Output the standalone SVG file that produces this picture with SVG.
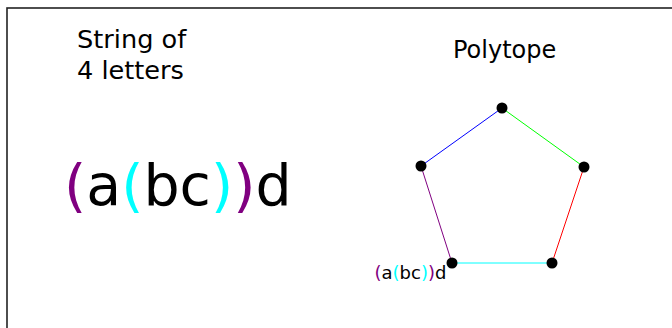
<svg xmlns="http://www.w3.org/2000/svg" width="672" height="328" viewBox="0 0 672 328">
<style>
text{font-family:"DejaVu Sans",sans-serif;fill:#000}
.edge{stroke-width:1;fill:none}
.v{fill:#000}
.p{fill:#800080}
.c{fill:#00ffff}
</style>
<rect x="0" y="0" width="672" height="328" fill="#fff"/>
<rect x="7" y="8" width="700" height="360" fill="none" stroke="#222" stroke-width="1.6"/>
<g id="title-string">
<text x="77" y="48" font-size="25.6">String of</text>
<text x="77" y="79" font-size="25.6">4 letters</text>
</g>
<g id="title-polytope">
<text x="453" y="58" font-size="24">Polytope</text>
</g>
<g id="big-string">
<text x="64" y="205" font-size="57"><tspan class="p">(</tspan>a<tspan class="c">(</tspan>bc<tspan class="c">)</tspan><tspan class="p">)</tspan>d</text>
</g>
<g id="connectors">
<line class="edge" x1="421" y1="166" x2="502" y2="108" stroke="#0000ff"/>
<line class="edge" x1="502" y1="108" x2="584" y2="167" stroke="#00ff00"/>
<line class="edge" x1="584" y1="167" x2="552" y2="263" stroke="#ff0000"/>
<line class="edge" x1="452" y1="263" x2="552" y2="263" stroke="#00ffff"/>
<line class="edge" x1="421" y1="166" x2="452" y2="263" stroke="#800080"/>
</g>
<g id="v-top"><circle class="v" cx="502" cy="108" r="5.5"/></g>
<g id="v-right"><circle class="v" cx="584" cy="167" r="5.5"/></g>
<g id="v-bottom-right"><circle class="v" cx="552" cy="263" r="5.5"/></g>
<g id="v-bottom-left"><circle class="v" cx="452" cy="263" r="5.5"/>
<text x="374.5" y="279" font-size="18"><tspan class="p">(</tspan>a<tspan class="c">(</tspan>bc<tspan class="c">)</tspan><tspan class="p">)</tspan>d</text>
</g>
<g id="v-left"><circle class="v" cx="421" cy="166" r="5.5"/></g>
</svg>
